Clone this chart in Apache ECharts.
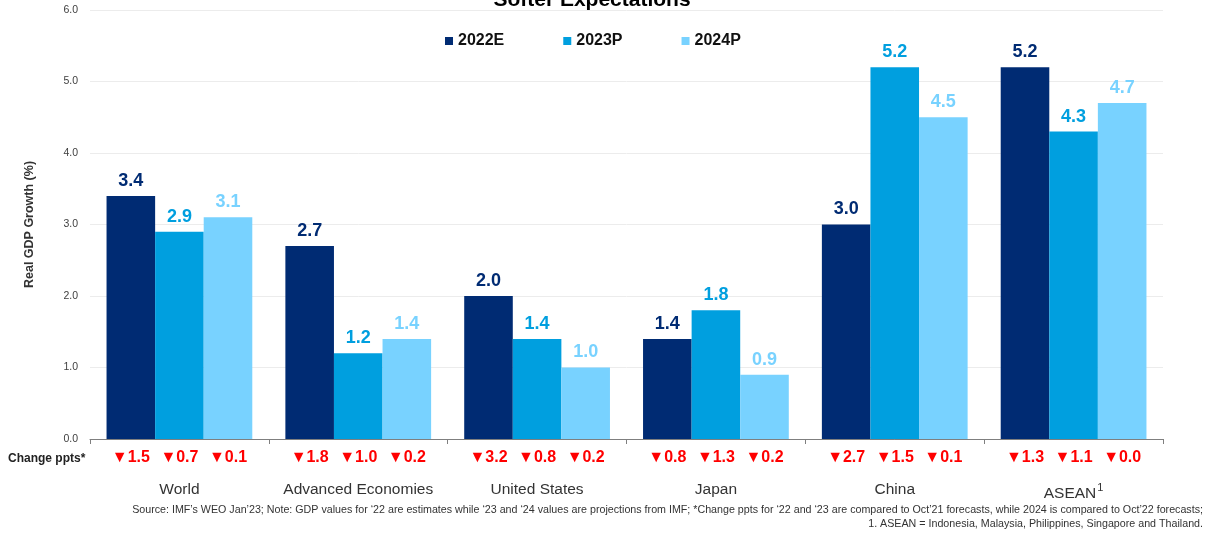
<!DOCTYPE html>
<html>
<head>
<meta charset="utf-8">
<script src="https://cdn.jsdelivr.net/npm/echarts@6/dist/echarts.min.js"></script>
<style>
  html, body { margin: 0; padding: 0; background: #fff; }
  #mainChart { width: 1206px; height: 535px; }
</style>
</head>
<body>
<div id="mainChart"></div>
<script>
// 数据
const categories = ["World", "Advanced Economies", "United States", "Japan", "China", "ASEAN"];
const seriesNames = ["2022E", "2023P", "2024P"];
const gdp2022 = [3.4, 2.7, 2.0, 1.4, 3.0, 5.2];
const gdp2023 = [2.9, 1.2, 1.4, 1.8, 5.2, 4.3];
const gdp2024 = [3.1, 1.4, 1.0, 0.9, 4.5, 4.7];
// change ppts (all downward)
const chg2022 = [1.5, 1.8, 3.2, 0.8, 2.7, 1.3];
const chg2023 = [0.7, 1.0, 0.8, 1.3, 1.5, 1.1];
const chg2024 = [0.1, 0.2, 0.2, 0.2, 0.1, 0.0];
const yTicks = [0, 1, 2, 3, 4, 5, 6];

const colors = ["#002B73", "#009FDF", "#78D2FF"];
const catGap = 0.185;
const font = "Liberation Sans, Arial, sans-serif";

const chart = echarts.init(document.getElementById("mainChart"));

// change labels data: [categoryIndex, barIndex, value]
const chgData = [];
[chg2022, chg2023, chg2024].forEach(function (arr, k) {
  arr.forEach(function (v, i) { chgData.push([i, k, v]); });
});

function barSeries(name, data, color) {
  return {
    name: name,
    type: "bar",
    data: data,
    barGap: 0,
    barCategoryGap: catGap * 100 + "%",
    itemStyle: { color: color },
    label: {
      show: true,
      position: "top",
      distance: 6,
      color: color,
      fontWeight: "bold",
      fontSize: 18,
      fontFamily: font,
      formatter: function (p) { return p.value.toFixed(1); }
    }
  };
}

const option = {
  animation: false,
  textStyle: { fontFamily: font },
  title: {
    text: "Softer Expectations",
    left: 587,
    textAlign: "center",
    top: -15,
    textStyle: { fontSize: 21, fontWeight: "bold", color: "#000", fontFamily: font }
  },
  legend: {
    data: seriesNames,
    left: 440,
    top: 28,
    icon: "rect",
    itemWidth: 8,
    itemHeight: 8,
    itemGap: 59,
    textStyle: { fontSize: 16, fontWeight: "bold", color: "#111" }
  },
  grid: { left: 90, right: 43, top: 10, bottom: 96 },
  xAxis: {
    type: "category",
    data: categories,
    axisLine: { lineStyle: { color: "#7f7f7f", width: 1 } },
    axisTick: { show: true, interval: 0, length: 5, lineStyle: { color: "#7f7f7f" } },
    axisLabel: {
      interval: 0,
      margin: 43,
      fontSize: 15.5,
      color: "#333",
      formatter: function (v) { return v === "ASEAN" ? "ASEAN{sup|1}" : v; },
      rich: { sup: { fontSize: 11, color: "#333", padding: [0, 0, 12, 1] } }
    }
  },
  yAxis: {
    type: "value",
    min: yTicks[0],
    max: yTicks[yTicks.length - 1],
    interval: 1,
    name: "Real GDP Growth (%)",
    nameLocation: "middle",
    nameGap: 54,
    nameRotate: 90,
    nameTextStyle: { fontSize: 12.5, fontWeight: "bold", color: "#333" },
    axisLine: { show: false },
    axisTick: { show: false },
    axisLabel: {
      fontSize: 10.5,
      color: "#404040",
      margin: 12,
      formatter: function (v) { return v.toFixed(1); }
    },
    splitLine: { lineStyle: { color: "#ececec" } }
  },
  series: [
    barSeries(seriesNames[0], gdp2022, colors[0]),
    barSeries(seriesNames[1], gdp2023, colors[1]),
    barSeries(seriesNames[2], gdp2024, colors[2]),
    {
      type: "custom",
      data: chgData,
      silent: true,
      renderItem: function (params, api) {
        const i = api.value(0);
        const k = api.value(1);
        const v = api.value(2);
        const base = api.coord([i, 0]);
        const band = api.size([1, 0])[0];
        const barW = band * (1 - catGap) / 3;
        return {
          type: "text",
          x: base[0] + (k - 1) * barW,
          y: base[1] + 19,
          style: {
            text: "▼" + v.toFixed(1),
            fill: "#FF0000",
            font: "bold 16px " + font,
            align: "center",
            verticalAlign: "middle"
          }
        };
      }
    }
  ],
  graphic: [
    {
      type: "text", left: 8, top: 453,
      style: { text: "Change ppts*", font: "bold 12px " + font, fill: "#222" }
    },
    {
      type: "text", right: 3, top: 505,
      style: {
        text: "Source: IMF’s WEO Jan’23; Note: GDP values for ‘22 are estimates while ‘23 and ‘24 values are projections from IMF; *Change ppts for ‘22 and ‘23 are compared to Oct’21 forecasts, while 2024 is compared to Oct’22 forecasts;",
        font: "10.7px " + font, fill: "#333", align: "right"
      }
    },
    {
      type: "text", right: 3, top: 519,
      style: {
        text: "1. ASEAN = Indonesia, Malaysia, Philippines, Singapore and Thailand.",
        font: "10.7px " + font, fill: "#333", align: "right"
      }
    }
  ]
};

chart.setOption(option);
window.addEventListener("resize", function () { chart.resize(); });
</script>
</body>
</html>
